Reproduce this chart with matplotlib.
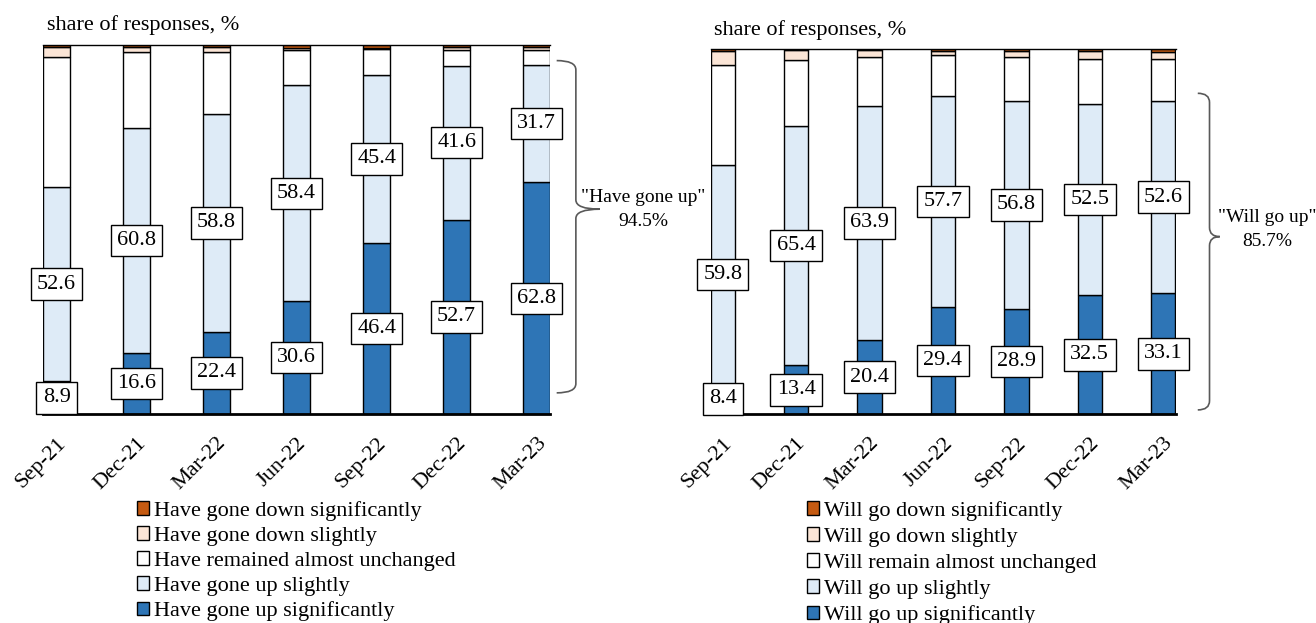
import numpy as np
import matplotlib
matplotlib.use("Agg")
import matplotlib.pyplot as plt
from matplotlib.patches import Patch, PathPatch
from matplotlib.path import Path

plt.rcParams['font.family'] = ['Liberation Serif', 'DejaVu Serif']
plt.rcParams['font.size'] = 16

# data
quarters = ['Sep-21', 'Dec-21', 'Mar-22', 'Jun-22', 'Sep-22', 'Dec-22', 'Mar-23']

past_up_sig = [8.9, 16.6, 22.4, 30.6, 46.4, 52.7, 62.8]
past_up_slight = [52.6, 60.8, 58.8, 58.4, 45.4, 41.6, 31.7]
past_unchanged = [35.3, 20.6, 16.8, 9.7, 7.1, 4.2, 4.0]
past_down_slight = [2.6, 1.4, 1.4, 0.4, 0.3, 0.8, 0.9]
past_down_sig = [0.6, 0.6, 0.6, 0.9, 0.8, 0.7, 0.6]

fut_up_sig = [8.4, 13.4, 20.4, 29.4, 28.9, 32.5, 33.1]
fut_up_slight = [59.8, 65.4, 63.9, 57.7, 56.8, 52.5, 52.6]
fut_unchanged = [27.4, 18.1, 13.4, 11.3, 11.9, 12.3, 11.4]
fut_down_slight = [3.7, 2.7, 1.9, 1.1, 1.9, 2.2, 2.1]
fut_down_sig = [0.7, 0.4, 0.4, 0.5, 0.5, 0.5, 0.8]

past_labels = ['Have gone up significantly', 'Have gone up slightly',
               'Have remained almost unchanged', 'Have gone down slightly',
               'Have gone down significantly']
fut_labels = ['Will go up significantly', 'Will go up slightly',
              'Will remain almost unchanged', 'Will go down slightly',
              'Will go down significantly']

colors = ['#2E75B6', '#DEEBF7', '#FFFFFF', '#FBE5D6', '#C55A11']

W, H = 1316, 623
fig = plt.figure(figsize=(W / 100, H / 100), dpi=100)


def bracket(ax, ytop, ymid, ybot, x0, x1, x2, ry):
    verts = [(x0, ytop), (x1, ytop), (x1, ytop - ry),
             (x1, ymid + ry),
             (x1, ymid), (x2, ymid),
             (x1, ymid), (x1, ymid - ry),
             (x1, ybot + ry),
             (x1, ybot), (x0, ybot)]
    codes = [Path.MOVETO, Path.CURVE3, Path.CURVE3,
             Path.LINETO,
             Path.CURVE3, Path.CURVE3,
             Path.CURVE3, Path.CURVE3,
             Path.LINETO,
             Path.CURVE3, Path.CURVE3]
    ax.add_patch(PathPatch(Path(verts, codes), fc='none', ec='#595959',
                           lw=1.2, clip_on=False))


def stacked(rect, series, labels, legend_anchor, spacing, title_x, title_y,
            brk, note, note_xy):
    ax = fig.add_axes(rect)
    x = np.arange(len(quarters))
    bottom = np.zeros(len(quarters))
    handles = []
    for vals, col, lab in zip(series, colors, labels):
        vals = np.array(vals)
        ax.bar(x, vals, 1 / 3, bottom=bottom, color=col, edgecolor='black',
               linewidth=1, zorder=2)
        handles.append(Patch(facecolor=col, edgecolor='black', linewidth=1,
                             label=lab))
        bottom = bottom + vals

    # value boxes for the two "up" segments
    base = np.zeros(len(quarters))
    for vals in series[:2]:
        for xi, b, v in zip(x, base, vals):
            ax.text(xi, b + v / 2, f'{v:.1f}', ha='center', va='center',
                    fontsize=16, zorder=4,
                    bbox=dict(boxstyle='square,pad=0.28', fc='white',
                              ec='black', lw=1))
        base = base + np.array(vals)

    ax.set_xlim(-1 / 6, len(quarters) - 1 + 1 / 6)
    ax.set_ylim(0, 100)
    ax.set_yticks([])
    ax.set_xticks(x)
    ax.set_xticklabels(quarters, rotation=45, ha='right', va='top',
                       rotation_mode='anchor', fontsize=16)
    ax.tick_params(axis='x', length=0, pad=14)
    for s in ['left', 'right']:
        ax.spines[s].set_visible(False)
    ax.spines['top'].set_linewidth(1)
    ax.spines['bottom'].set_linewidth(2)
    ax.set_facecolor('none')

    ax.text(title_x, title_y, 'share of responses, %', transform=ax.transAxes,
            ha='left', va='center', fontsize=16)

    ax.legend(handles=handles[::-1], loc='upper left',
              bbox_to_anchor=legend_anchor, frameon=False, fontsize=16,
              handlelength=0.55, handleheight=0.55, handletextpad=0.2,
              labelspacing=spacing, borderpad=0, borderaxespad=0)

    bracket(ax, *brk)
    total = series[0][-1] + series[1][-1]
    ax.text(note_xy[0], note_xy[1], f'{note}\n{total:.1f}%', ha='center',
            va='center', fontsize=14, linespacing=1.55)
    return ax


stacked([43.3 / W, 1 - 414.3 / H, 506.7 / W, 369.6 / H],
        [past_up_sig, past_up_slight, past_unchanged, past_down_slight,
         past_down_sig],
        past_labels, (0.185, -0.234), 0.25, 0.007, 1.053,
        (95.7, 55.5, 5.8, 6.25, 6.49, 6.79, 2.5),
        '"Have gone up"', (7.33, 55.5))

stacked([710.5 / W, 1 - 414.3 / H, 465 / W, 365.6 / H],
        [fut_up_sig, fut_up_slight, fut_unchanged, fut_down_slight,
         fut_down_sig],
        fut_labels, (0.2075, -0.237), 0.29, 0.0075, 1.051,
        (87.8, 48.6, 1.2, 6.47, 6.63, 6.77, 2.5),
        '"Will go up"', (7.41, 50.6))

fig.savefig('out.png', dpi=100)
